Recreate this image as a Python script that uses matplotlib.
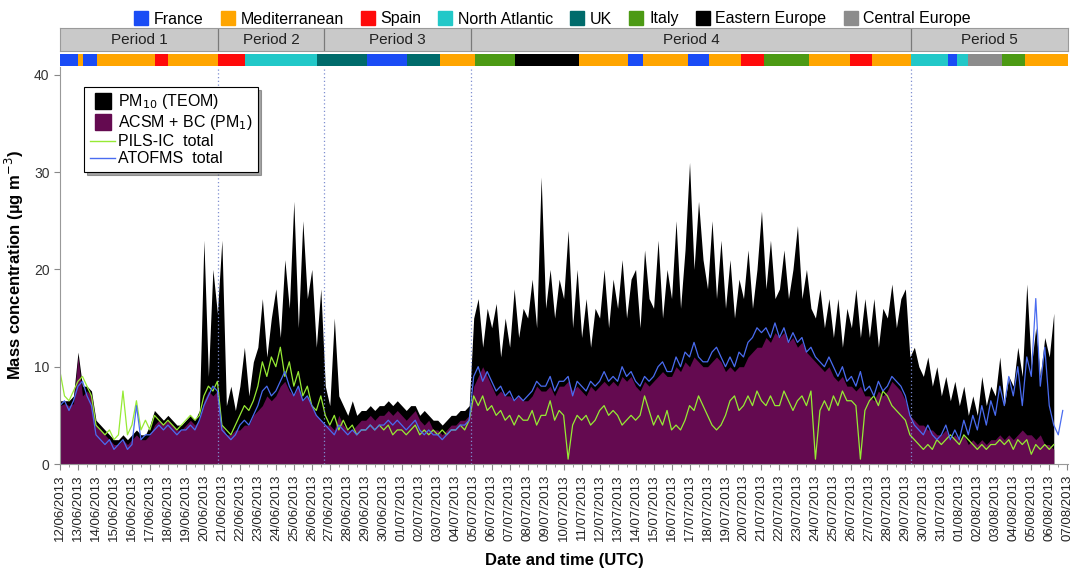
import numpy as np
import pandas as pd
import matplotlib
matplotlib.use('Agg')
import matplotlib.pyplot as plt
import matplotlib.dates as mdates
from matplotlib.lines import Line2D

plt.rcParams['font.family'] = ['Liberation Sans', 'DejaVu Sans']

# ---------------- data (6-hourly values, 4 per day, from 12/06/2013 00:00) ----------------
start_time = '2013-06-12 00:00'
nan = np.nan

pm10_teom = [
    6.5, 6.5, 6.5, 7.0,   11.5, 8.0, 8.0, 7.5,   4.5, 4.0, 3.5, 3.0,   2.5, 2.5, 3.0, 2.5,
    3.0, 3.5, 3.0, 3.0,   4.0, 5.5, 5.0, 4.5,   5.0, 4.5, 4.0, 4.0,   4.5, 5.0, 4.5, 5.5,
    23.0, 9.0, 20.0, 15.5, 23.0, 6.0, 8.0, 5.5,  8.0, 12.0, 7.0, 10.5, 12.0, 17.0, 11.0, 15.0,
    18.0, 13.0, 21.0, 16.0, 27.0, 14.0, 25.0, 17.0, 20.0, 12.0, 18.0, 8.0, 6.0, 15.0, 7.0, 6.0,
    5.0, 6.5, 5.0, 5.5,   5.5, 6.0, 5.5, 6.0,   6.0, 6.5, 6.0, 6.5,   6.0, 5.5, 6.0, 6.0,
    5.0, 5.5, 5.0, 4.5,   4.5, 4.0, 4.5, 5.0,   5.0, 5.5, 5.5, 6.0,   15.0, 17.0, 12.0, 16.0,
    14.0, 16.5, 11.0, 15.0, 12.0, 18.0, 13.0, 16.0, 15.0, 19.0, 14.0, 29.5, 16.0, 20.0, 15.0, 19.0,
    17.0, 24.0, 14.0, 20.0, 13.0, 17.0, 12.0, 16.0, 15.0, 20.0, 14.0, 19.0, 16.0, 21.0, 15.0, 19.0,
    20.0, 14.0, 22.0, 17.0, 16.0, 23.0, 15.0, 20.0, 17.0, 25.0, 16.0, 22.0, 31.0, 20.0, 27.0, 21.0,
    18.0, 25.0, 17.0, 23.0, 16.0, 21.0, 15.0, 19.0, 17.0, 22.0, 16.0, 20.0, 26.0, 18.0, 23.0, 17.0,
    18.0, 22.0, 17.0, 20.0, 24.5, 17.0, 20.0, 16.0, 15.0, 18.0, 14.0, 17.0, 13.0, 17.0, 12.0, 16.0,
    14.0, 18.0, 13.0, 17.0, 13.0, 17.0, 12.0, 16.0, 15.0, 18.5, 14.0, 17.0, 18.0, 11.0, 12.0, 10.0,
    9.0, 11.0, 8.0, 10.0,  7.0, 9.0, 6.5, 8.5,   6.0, 8.0, 5.0, 7.0,   5.0, 9.0, 6.0, 8.0,
    7.0, 11.0, 6.0, 9.0,  8.0, 12.0, 9.0, 18.5, 10.0, 14.0, 9.0, 13.0, 11.0, 15.5, nan, nan,
]

acsm_bc_pm1 = [
    6.0, 6.2, 6.0, 6.2,   11.0, 7.0, 7.5, 7.0,  4.0, 3.5, 3.0, 2.5,   2.0, 2.0, 2.5, 2.0,
    2.5, 3.0, 2.5, 2.5,   3.0, 4.0, 4.5, 4.0,   4.5, 4.0, 3.5, 3.5,   4.0, 4.5, 4.0, 4.5,
    6.5, 7.5, 7.0, 7.5,   4.0, 3.0, 3.0, 3.5,   3.5, 4.0, 4.0, 5.0,   5.5, 6.0, 7.0, 6.5,
    7.0, 8.0, 8.5, 7.5,   7.0, 8.0, 6.5, 7.0,   6.0, 5.0, 4.5, 4.0,   4.0, 3.5, 5.0, 4.0,
    3.5, 3.5, 4.0, 4.5,   4.5, 5.0, 4.5, 5.0,   5.0, 5.5, 5.0, 5.5,   5.0, 4.5, 5.0, 5.5,
    4.5, 4.0, 4.5, 3.5,   3.5, 3.0, 3.5, 4.0,   4.0, 4.5, 4.5, 5.0,   8.0, 9.0, 10.0, 9.0,
    8.0, 7.0, 7.5, 7.0,   7.0, 6.5, 7.0, 6.5,   6.5, 7.0, 8.0, 7.5,   7.5, 8.0, 7.0, 8.0,
    8.0, 8.5, 7.5, 8.0,   7.5, 7.0, 8.0, 7.5,   8.0, 8.5, 8.0, 8.5,   8.0, 9.0, 8.5, 9.0,
    8.0, 7.5, 8.5, 8.0,   8.5, 9.0, 9.5, 9.0,   9.0, 10.0, 9.5, 10.5, 10.0, 11.0, 10.5, 10.0,
    10.0, 10.5, 11.0, 10.5, 9.5, 10.0, 9.5, 10.0, 10.0, 11.0, 11.5, 12.0, 12.0, 13.0, 12.5, 13.5,
    13.0, 13.5, 12.5, 13.0, 12.0, 12.5, 11.5, 11.0, 10.5, 10.0, 9.5, 10.0, 9.0, 8.5, 9.0, 8.0,
    8.0, 7.5, 8.0, 7.0,   7.0, 6.5, 7.5, 7.0,   7.5, 8.5, 8.0, 7.5,   6.5, 5.0, 4.5, 4.0,
    4.0, 3.5, 3.5, 3.0,   3.0, 3.5, 2.5, 3.0,   2.5, 3.0, 2.0, 2.5,   2.0, 2.5, 2.0, 2.5,
    2.5, 3.0, 2.5, 3.0,   2.5, 3.0, 3.5, 3.0,   3.0, 2.5, 3.0, 2.0,   2.0, 1.5, nan, nan,
]

pils_ic_total = [
    9.5, 7.0, 6.5, 7.5,   8.5, 9.0, 8.0, 7.0,   4.0, 3.5, 3.0, 3.5,   2.5, 3.0, 7.5, 3.0,
    4.0, 6.5, 3.5, 4.5,   3.5, 5.0, 4.5, 4.0,   4.5, 4.0, 3.5, 4.0,   4.5, 5.0, 4.5, 5.0,
    7.0, 8.0, 7.5, 8.5,   4.0, 3.5, 3.0, 4.0,   5.0, 6.0, 5.5, 6.5,   8.0, 10.5, 9.0, 11.0,
    10.0, 12.0, 9.0, 10.5, 8.0, 9.5, 7.0, 8.0,  6.0, 5.5, 7.0, 5.0,   4.0, 5.0, 3.5, 4.5,
    3.5, 4.0, 3.0, 3.5,   3.5, 4.0, 3.5, 4.0,   3.5, 4.0, 3.0, 3.5,   3.5, 3.0, 3.5, 4.0,
    3.0, 3.5, 3.0, 3.5,   3.0, 3.5, 3.0, 3.5,   3.5, 4.0, 3.5, 4.5,   7.0, 6.0, 7.0, 5.5,
    6.0, 5.0, 5.5, 4.5,   5.0, 4.0, 5.0, 4.5,   4.5, 5.5, 4.0, 5.0,   5.0, 6.5, 4.5, 5.5,
    5.0, 0.5, 4.0, 5.0,   4.5, 5.0, 4.0, 4.5,   5.5, 6.0, 5.0, 5.5,   5.0, 4.0, 4.5, 5.0,
    4.5, 5.0, 7.0, 5.5,   4.0, 5.0, 4.0, 5.5,   3.5, 4.0, 3.5, 4.5,   6.0, 5.5, 7.0, 6.0,
    5.0, 4.0, 3.5, 4.0,   5.0, 6.5, 7.0, 5.5,   6.0, 7.0, 6.0, 7.5,   6.5, 6.0, 7.0, 6.0,
    6.0, 7.5, 6.5, 5.5,   6.5, 7.0, 6.0, 7.5,   0.5, 5.5, 6.5, 5.5,   7.0, 6.0, 7.5, 6.5,
    6.5, 6.0, 0.5, 5.5,   6.5, 7.0, 6.0, 7.5,   7.0, 6.0, 5.5, 5.0,   4.5, 3.0, 2.5, 2.0,
    1.5, 2.0, 1.5, 2.5,   2.0, 2.5, 3.0, 2.5,   2.0, 3.0, 2.5, 2.0,   1.5, 2.0, 1.5, 2.0,
    2.0, 2.5, 2.0, 2.5,   1.5, 2.5, 2.0, 2.5,   1.0, 2.0, 1.5, 2.0,   1.5, 2.0, nan, nan,
]

atofms_total = [
    6.0, 6.5, 5.5, 6.5,   8.0, 8.5, 7.0, 6.0,   3.0, 2.5, 2.0, 2.5,   1.5, 2.0, 2.5, 1.5,
    2.0, 6.0, 2.5, 3.0,   3.0, 3.5, 4.0, 3.5,   4.0, 3.5, 3.0, 3.5,   3.5, 4.0, 3.5, 4.5,
    6.0, 7.0, 8.0, 7.5,   3.5, 3.0, 2.5, 3.0,   4.0, 4.5, 4.0, 5.0,   6.0, 7.5, 8.0, 7.0,
    7.5, 8.5, 9.5, 8.0,   7.0, 8.0, 6.5, 7.0,   6.0, 5.0, 4.5, 4.0,   3.5, 3.0, 4.0, 3.5,
    3.0, 3.5, 3.0, 3.5,   3.5, 4.0, 3.5, 4.0,   4.0, 4.5, 4.0, 4.5,   4.0, 3.5, 4.0, 4.5,
    3.5, 3.0, 3.5, 3.0,   3.0, 2.5, 3.0, 3.5,   3.5, 4.0, 4.0, 4.5,   9.0, 10.0, 8.5, 9.5,
    8.5, 7.5, 8.0, 7.0,   7.5, 6.5, 7.0, 6.5,   7.0, 7.5, 8.5, 8.0,   8.0, 9.0, 7.5, 8.5,
    8.5, 9.0, 7.0, 8.5,   8.0, 7.5, 8.5, 8.0,   8.5, 9.5, 8.5, 9.0,   8.5, 10.0, 9.0, 9.5,
    8.5, 8.0, 9.0, 8.5,   9.0, 10.0, 10.5, 9.5, 9.5, 11.0, 10.0, 11.5, 11.0, 12.5, 11.0, 10.5,
    10.5, 11.5, 12.0, 11.0, 10.0, 11.0, 10.0, 11.5, 11.0, 12.5, 13.0, 14.0, 13.5, 14.0, 13.0, 14.5,
    13.0, 14.0, 12.5, 13.5, 12.5, 13.0, 11.5, 12.0, 11.0, 10.5, 10.0, 11.0, 10.0, 9.0, 10.0, 8.5,
    9.0, 8.0, 9.5, 7.5,   8.0, 7.0, 8.5, 7.5,   8.0, 9.0, 8.5, 8.0,   7.0, 5.0, 4.0, 3.5,
    3.0, 4.0, 3.0, 2.5,   3.0, 4.0, 2.5, 3.5,   2.5, 4.5, 3.0, 5.0,   3.5, 6.0, 4.0, 6.5,
    5.0, 8.0, 6.0, 9.0,   7.0, 10.0, 6.0, 11.0, 9.0, 17.0, 8.0, 12.0, 6.0, 4.0, 3.0, 5.5,
]

# air-mass origin strip (start times of each segment)
segment_starts = [
    '2013-06-12 00:00', '2013-06-13 00:30', '2013-06-13 07:00', '2013-06-14 01:00',
    '2013-06-17 07:00', '2013-06-18 00:30', '2013-06-20 18:30', '2013-06-22 07:00',
    '2013-06-26 07:30', '2013-06-29 01:30', '2013-07-01 07:30', '2013-07-03 02:30',
    '2013-07-05 02:00', '2013-07-07 07:30', '2013-07-10 20:00', '2013-07-13 13:40',
    '2013-07-14 09:20', '2013-07-16 21:20', '2013-07-18 02:20', '2013-07-19 21:00',
    '2013-07-21 03:00', '2013-07-23 15:00', '2013-07-25 21:40', '2013-07-27 03:20',
    '2013-07-29 08:00', '2013-07-31 08:30', '2013-07-31 21:00', '2013-08-01 11:00',
    '2013-08-03 09:00', '2013-08-04 15:00',
]
segment_regions = [
    'France', 'Mediterranean', 'France', 'Mediterranean',
    'Spain', 'Mediterranean', 'Spain', 'North Atlantic',
    'UK', 'France', 'UK', 'Mediterranean',
    'Italy', 'Eastern Europe', 'Mediterranean', 'France',
    'Mediterranean', 'France', 'Mediterranean', 'Spain',
    'Italy', 'Mediterranean', 'Spain', 'Mediterranean',
    'North Atlantic', 'France', 'North Atlantic', 'Central Europe',
    'Italy', 'Mediterranean',
]

region_names = ['France', 'Mediterranean', 'Spain', 'North Atlantic', 'UK',
                'Italy', 'Eastern Europe', 'Central Europe']
region_colors = ['#1a4cf5', '#ffa500', '#ff0a0a', '#22c8c8', '#006b6b',
                 '#4c9a14', '#000000', '#8c8c8c']

period_labels = ['Period 1', 'Period 2', 'Period 3', 'Period 4', 'Period 5']
period_bounds = ['2013-06-20 18:30', '2013-06-26 16:20', '2013-07-04 20:40', '2013-07-29 08:00']

x_start = pd.Timestamp('2013-06-12 00:00')
x_end = pd.Timestamp('2013-08-07 01:00')

# ---------------- figure ----------------
t = pd.date_range(start_time, periods=len(pm10_teom), freq='6h')
purple = '#640a50'
green = '#96ea34'
blue = '#4a6cf0'

fig = plt.figure(figsize=(10.7, 5.68), dpi=100)
L, R = 60 / 1070, 1068 / 1070
ax = fig.add_axes([L, 1 - 464 / 568, R - L, (464 - 67) / 568])

ax.fill_between(t, 0, pm10_teom, color='black', lw=0)
ax.fill_between(t, 0, acsm_bc_pm1, color=purple, lw=0)
ax.plot(t, pils_ic_total, color=green, lw=0.9)
ax.plot(t, atofms_total, color=blue, lw=0.9)

for b in period_bounds:
    ax.axvline(pd.Timestamp(b), color='#7f8fd0', ls=(0, (1, 2)), lw=0.9)

ax.set_xlim(x_start, x_end)
ax.set_ylim(0, 40.8)
ax.set_yticks([0, 10, 20, 30, 40])
ax.xaxis.set_major_locator(mdates.DayLocator())
ax.xaxis.set_minor_locator(mdates.HourLocator(byhour=[12]))
ax.xaxis.set_major_formatter(mdates.DateFormatter('%d/%m/%Y'))
for lab in ax.get_xticklabels():
    lab.set_rotation(90)
ax.tick_params(axis='x', which='major', labelsize=9.5, length=4, color='#888', labelcolor='#222')
ax.tick_params(axis='x', which='minor', length=2.5, color='#888')
ax.tick_params(axis='y', labelsize=10, length=4, color='#888', labelcolor='#333')
for s in ['top', 'right']:
    ax.spines[s].set_visible(False)
for s in ['left', 'bottom']:
    ax.spines[s].set_color('#999')

ax.set_ylabel('Mass concentration (µg m$^{-3}$)', fontsize=12, fontweight='bold', labelpad=6)
ax.set_xlabel('Date and time (UTC)', fontsize=12, fontweight='bold', labelpad=9)

handles = [
    Line2D([], [], marker='s', ls='none', color='black', markersize=11),
    Line2D([], [], marker='s', ls='none', color=purple, markersize=11),
    Line2D([], [], color=green, lw=1),
    Line2D([], [], color=blue, lw=1),
]
labels = ['PM$_{10}$ (TEOM)', 'ACSM + BC (PM$_1$)', 'PILS-IC  total', 'ATOFMS  total']
leg = ax.legend(handles, labels, loc='upper left', bbox_to_anchor=(0.024, 0.95),
                fontsize=11.5, frameon=True, fancybox=False, shadow=True,
                handlelength=1.6, handletextpad=0.15, labelspacing=0.12,
                borderpad=0.35, borderaxespad=0)
leg.get_frame().set_edgecolor('black')
leg.get_frame().set_linewidth(0.8)

# air-mass strip
sax = fig.add_axes([L, 1 - 66 / 568, R - L, 12 / 568], sharex=ax)
color_of = dict(zip(region_names, region_colors))
seg_t = [pd.Timestamp(s) for s in segment_starts] + [x_end]
for i, reg in enumerate(segment_regions):
    sax.axvspan(seg_t[i], seg_t[i + 1], color=color_of[reg], lw=0)
sax.set_ylim(0, 1)
sax.axis('off')

# period bar
pax = fig.add_axes([L, 1 - 51 / 568, R - L, 23 / 568], sharex=ax)
pax.axvspan(x_start, x_end, color='#c9c9c9', lw=0)
pb = [x_start] + [pd.Timestamp(b) for b in period_bounds] + [x_end]
for b in pb[1:-1]:
    pax.axvline(b, color='#7a7a7a', lw=0.9)
for i, lab in enumerate(period_labels):
    mid = pb[i] + (pb[i + 1] - pb[i]) / 2
    pax.text(mid, 0.5, lab, ha='center', va='center', fontsize=11, color='#222')
pax.set_ylim(0, 1)
pax.tick_params(which='both', left=False, bottom=False, labelleft=False, labelbottom=False)
for s in pax.spines.values():
    s.set_color('#9a9a9a')
    s.set_linewidth(0.8)

# region legend on top
rh = [Line2D([], [], marker='s', ls='none', color=c, markersize=10) for c in region_colors]
fig.legend(rh, region_names, loc='center', bbox_to_anchor=(0.516, 1 - 19 / 568), ncol=8,
           frameon=False, fontsize=11.5, handletextpad=0.3, columnspacing=1.0,
           handlelength=1.0, borderaxespad=0)

fig.savefig('out.png', dpi=100)
